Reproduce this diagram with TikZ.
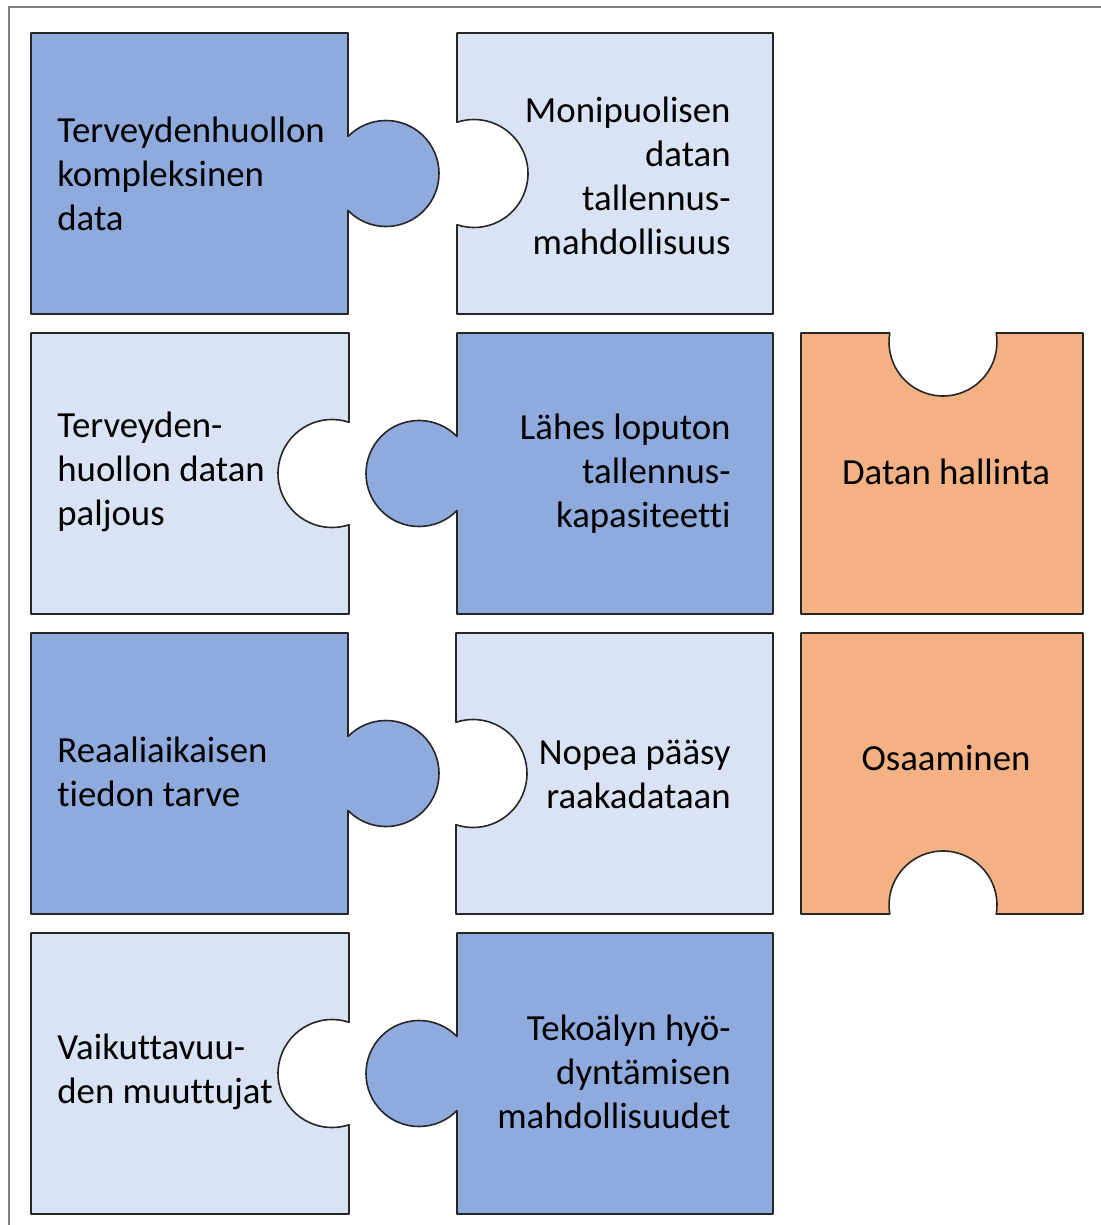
\documentclass[tikz,border=0pt]{standalone}
\usepackage{fontspec}
\setmainfont[Ligatures=NoCommon]{Carlito}
\usetikzlibrary{calc}
\usepackage{xcolor}

\definecolor{tumma}{HTML}{8FAADC}
\definecolor{vaalea}{HTML}{DAE3F3}
\definecolor{oranssi}{HTML}{F4B183}

\begin{document}
\begin{tikzpicture}[x=0.5pt,y=-0.5pt,
    pala/.style={draw=black!85, line width=0.8pt, line join=round},
    teksti/.style={font=\fontsize{18.4}{22}\selectfont, inner sep=0pt}]
      \def\kr{53}      % nupin sade
      \def\ka{135.8}
      \def\sr{54}      % kolon sade
      \def\sa{108.35}

      \useasboundingbox (0,0) rectangle (1101,1225);
      \draw[gray, line width=1pt] (9,1230) -- (9,7) -- (1106,7);

      % Rivi 1
      \draw[pala, fill=tumma] (31,33) -- (348,33) -- ($(386,173.5)+(-\ka:\kr)$)
        arc[start angle=-\ka, end angle=\ka, radius=\kr] -- (348,314) -- (31,314) -- cycle;
      \draw[pala, fill=vaalea] (457,33) -- (773,33) -- (773,314) -- (457,314)
        -- ($(474,173.5)+(\sa:\sr)$) arc[start angle=\sa, end angle=-\sa, radius=\sr] -- cycle;

      % Rivi 2
      \draw[pala, fill=vaalea] (31,333) -- (349,333) -- ($(332,473.5)+(\sa-180:\sr)$)
        arc[start angle=\sa-180, end angle=-\sa-180, radius=\sr] -- (349,614) -- (31,614) -- cycle;
      \draw[pala, fill=tumma] (457,333) -- (773,333) -- (773,614) -- (457,614)
        -- ($(419,473.5)+(180-\ka:\kr)$) arc[start angle=180-\ka, end angle=180+\ka, radius=\kr] -- cycle;
      \draw[pala, fill=oranssi] (801,333) -- ($(943,342)+(189.6:\sr)$)
        arc[start angle=189.6, end angle=-9.6, radius=\sr] -- (1083,333) -- (1083,614) -- (801,614) -- cycle;

      % Rivi 3
      \draw[pala, fill=tumma] (31,633) -- (348,633) -- ($(386,773.5)+(-\ka:\kr)$)
        arc[start angle=-\ka, end angle=\ka, radius=\kr] -- (348,914) -- (31,914) -- cycle;
      \draw[pala, fill=vaalea] (456,633) -- (773,633) -- (773,914) -- (456,914)
        -- ($(473,773.5)+(\sa:\sr)$) arc[start angle=\sa, end angle=-\sa, radius=\sr] -- cycle;
      \draw[pala, fill=oranssi] (801,633) -- (1083,633) -- (1083,914) -- ($(943,905)+(9.6:\sr)$)
        arc[start angle=9.6, end angle=-189.6, radius=\sr] -- (801,914) -- cycle;

      % Rivi 4
      \draw[pala, fill=vaalea] (31,933) -- (349,933) -- ($(332,1073.5)+(\sa-180:\sr)$)
        arc[start angle=\sa-180, end angle=-\sa-180, radius=\sr] -- (349,1214) -- (31,1214) -- cycle;
      \draw[pala, fill=tumma] (457,933) -- (773,933) -- (773,1214) -- (457,1214)
        -- ($(419,1073.5)+(180-\ka:\kr)$) arc[start angle=180-\ka, end angle=180+\ka, radius=\kr] -- cycle;

      % Tekstit
      \node[teksti, anchor=west, align=left] (kompleksi) at (57,174) {Terveydenhuollon\\kompleksinen\\data};
      \node[teksti, anchor=east, align=right] (tallennus) at (731,176) {Monipuolisen\\datan\\tallennus-\\mahdollisuus};
      \node[teksti, anchor=west, align=left] (paljous) at (57,472) {Terveyden-\\huollon datan\\paljous};
      \node[teksti, anchor=east, align=right] (kapasiteetti) at (731,474) {Lähes loputon\\tallennus-\\kapasiteetti};
      \node[teksti] (hallinta) at (946,472) {Datan hallinta};
      \node[teksti, anchor=west, align=left] (tarve) at (57,772) {Reaaliaikaisen\\tiedon tarve};
      \node[teksti, anchor=east, align=right] (raakadata) at (731,774) {Nopea pääsy\\raakadataan};
      \node[teksti] (osaaminen) at (946,758) {Osaaminen};
      \node[teksti, anchor=west, align=left] (muuttujat) at (57,1072) {Vaikuttavuu-\\den muuttujat};
      \node[teksti, anchor=east, align=right] (tekoaly) at (731,1072) {Tekoälyn hyö-\\dyntämisen\\mahdollisuudet};
\end{tikzpicture}
\end{document}
